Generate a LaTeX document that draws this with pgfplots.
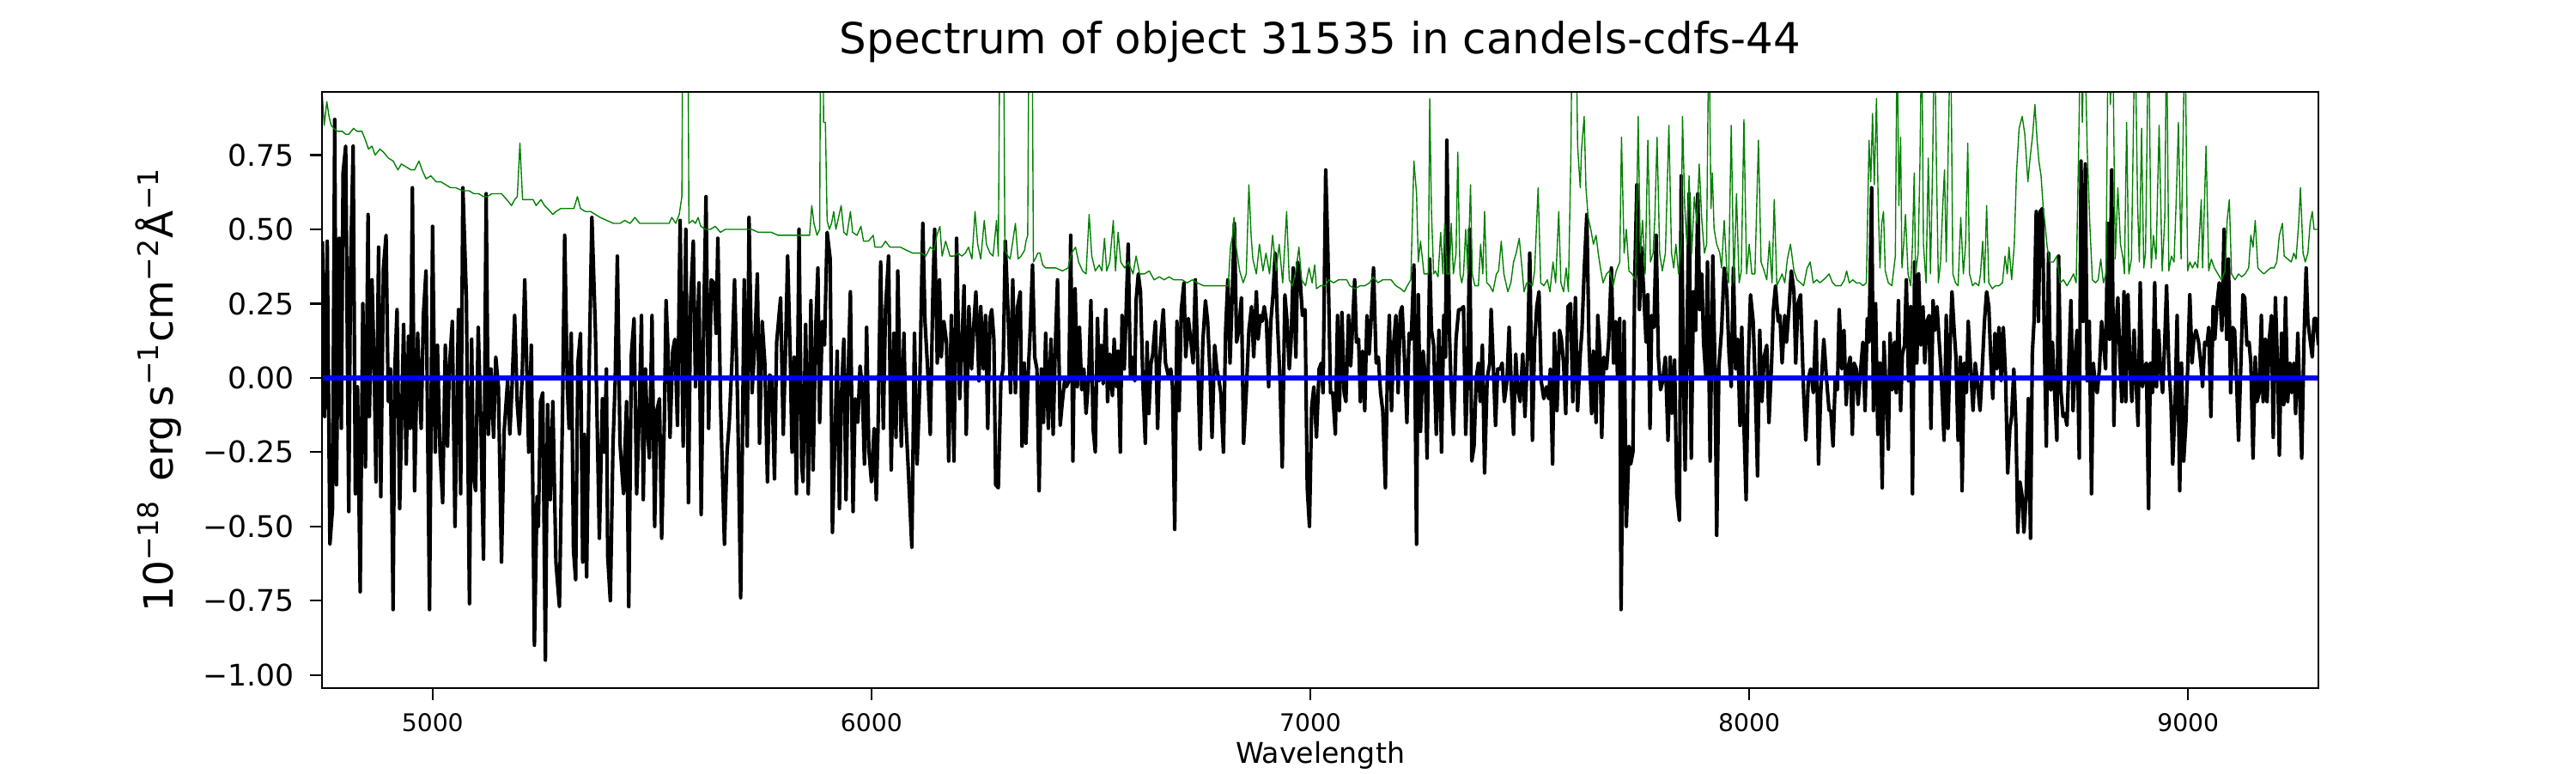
\documentclass[border=0pt]{standalone}
\usepackage{fontspec}
\setmainfont{DejaVu Sans}
\usepackage{pgfplots}
\pgfplotsset{compat=1.18}
\definecolor{mplgreen}{HTML}{008000}
\definecolor{mplblue}{HTML}{0000FF}
\begin{document}
\begin{tikzpicture}
\path[use as bounding box] (-135.5pt,-35.8pt) rectangle (948.5pt,289.4pt);
\begin{axis}[
  at={(0,0)}, anchor=south west, scale only axis,
  width=840.1pt, height=250.8pt,
  xmin=4748, xmax=9297, ymin=-1.044, ymax=0.963,
  axis on top,
  axis line style={line width=0.8pt},
  tick align=outside, major tick length=5.2pt,
  every tick/.style={line width=0.8pt, black},
  tick pos=left,
  xtick={5000,6000,7000,8000,9000},
  xticklabels={5000,6000,7000,8000,9000},
  ytick={-1,-0.75,-0.5,-0.25,0,0.25,0.5,0.75},
  yticklabels={−1.00,−0.75,−0.50,−0.25,0.00,0.25,0.50,0.75},
  xticklabel style={font=\fontsize{10.2}{12}\selectfont, inner sep=0pt, anchor=north, yshift=-5.4pt},
  yticklabel style={font=\fontsize{12.5}{15}\selectfont, inner sep=0pt, anchor=east, xshift=-6.2pt},
  title={Spectrum of object 31535 in candels-cdfs-44},
  title style={font=\fontsize{18}{21.6}\selectfont, inner sep=0pt, anchor=south, at={(axis description cs:0.5,1)}, yshift=6pt},
  xlabel={Wavelength},
  xlabel style={font=\fontsize{12}{14.4}\selectfont, inner sep=0pt, anchor=north, at={(axis description cs:0.5,0)}, yshift=-22.4pt},
  ylabel={10\textsuperscript{−18}\hspace{0.45em}erg\hspace{0.22em}s\textsuperscript{−1}cm\textsuperscript{−2}Å\textsuperscript{−1}},
  ylabel style={font=\fontsize{17}{20.4}\selectfont, inner sep=0pt, anchor=center, at={(axis description cs:-0.0818,0.5)}},
]
\addplot[black, line width=1.5pt, line join=round] coordinates {
(4749,0.46)(4754,-0.13)(4760,0.46)(4766,-0.56)(4772,-0.44)(4777,0.87)(4781,-0.36)(4787,0.47)(4792,-0.17)(4796,0.69)(4802,0.78)(4809,-0.45)(4813,0.36)(4819,0.78)(4824,-0.39)(4829,-0.03)(4835,-0.72)(4841,0.25)(4847,-0.30)(4853,0.55)(4856,-0.13)(4862,0.33)(4867,0.03)(4871,-0.35)(4877,0.44)(4882,-0.40)(4888,0.37)(4894,0.48)(4899,-0.08)(4904,0.03)(4910,-0.78)(4914,0.03)(4919,0.23)(4925,-0.44)(4934,0.18)(4940,-0.29)(4945,0.14)(4949,-0.17)(4954,0.64)(4959,-0.38)(4966,0.15)(4974,-0.17)(4979,0.21)(4985,0.36)(4993,-0.78)(5000,0.51)(5006,-0.25)(5011,0.11)(5017,-0.25)(5023,-0.42)(5029,0.11)(5034,-0.23)(5038,0.03)(5045,0.19)(5051,-0.50)(5059,0.23)(5064,-0.39)(5069,0.64)(5077,0.27)(5084,-0.76)(5089,0.13)(5093,-0.33)(5098,-0.38)(5104,0.17)(5110,-0.15)(5116,-0.61)(5122,0.62)(5127,-0.19)(5133,0.03)(5139,-0.20)(5144,0.07)(5150,-0.03)(5157,-0.62)(5163,-0.18)(5171,-0.01)(5176,-0.19)(5181,-0.03)(5187,0.21)(5193,-0.09)(5198,-0.19)(5204,0.00)(5210,0.33)(5219,-0.25)(5225,0.11)(5232,-0.90)(5238,-0.40)(5241,-0.50)(5246,-0.08)(5251,-0.05)(5257,-0.95)(5262,-0.09)(5268,-0.41)(5274,-0.08)(5281,-0.62)(5289,-0.77)(5296,-0.12)(5301,0.48)(5307,-0.03)(5311,-0.17)(5316,0.15)(5321,-0.58)(5326,-0.68)(5331,0.05)(5337,0.15)(5342,-0.62)(5346,-0.19)(5351,-0.67)(5357,0.05)(5363,0.54)(5371,0.16)(5380,-0.54)(5387,-0.07)(5392,-0.25)(5396,0.03)(5399,-0.60)(5405,-0.75)(5411,-0.23)(5416,-0.01)(5421,0.41)(5427,-0.22)(5435,-0.39)(5442,-0.08)(5447,-0.77)(5453,0.08)(5459,0.20)(5465,-0.39)(5471,-0.11)(5476,0.21)(5480,-0.41)(5485,0.03)(5489,-0.16)(5494,-0.27)(5500,0.21)(5506,-0.50)(5511,-0.11)(5517,-0.07)(5522,-0.54)(5528,-0.15)(5532,0.26)(5536,0.11)(5541,-0.20)(5547,0.09)(5552,0.13)(5558,-0.16)(5564,0.53)(5571,-0.23)(5577,0.50)(5583,-0.42)(5588,0.26)(5594,0.46)(5599,-0.03)(5607,0.32)(5612,-0.46)(5618,0.21)(5623,0.61)(5629,-0.17)(5635,0.33)(5641,0.32)(5646,0.15)(5650,0.47)(5656,-0.08)(5665,-0.56)(5671,-0.25)(5676,-0.15)(5682,0.05)(5688,0.33)(5695,-0.08)(5702,-0.74)(5710,0.33)(5717,-0.23)(5721,0.54)(5728,-0.05)(5734,0.11)(5740,0.35)(5745,-0.22)(5751,0.19)(5757,0.05)(5763,-0.35)(5768,0.01)(5773,0.00)(5779,-0.34)(5784,0.12)(5793,0.27)(5799,-0.19)(5804,0.08)(5809,0.41)(5815,0.07)(5819,-0.25)(5824,0.07)(5829,-0.39)(5835,0.50)(5841,-0.29)(5844,-0.35)(5850,0.18)(5856,-0.39)(5862,0.26)(5867,-0.31)(5873,0.17)(5878,0.37)(5882,-0.15)(5888,0.19)(5893,0.11)(5899,0.49)(5906,0.40)(5911,-0.52)
(5922,0.09)(5927,-0.44)(5931,-0.08)(5937,0.13)(5942,-0.41)(5946,-0.04)(5952,0.29)(5958,-0.45)(5963,-0.07)(5969,-0.15)(5974,0.04)(5979,-0.03)(5984,-0.29)(5989,0.17)(5994,-0.24)(6000,-0.35)(6006,-0.17)(6011,-0.41)(6015,-0.17)(6021,0.39)(6027,-0.17)(6032,0.23)(6039,0.41)(6045,-0.31)(6051,0.15)(6056,-0.20)(6060,0.36)(6068,-0.23)(6074,0.15)(6078,-0.13)(6084,-0.31)(6092,-0.57)(6098,0.15)(6104,-0.29)(6110,-0.03)(6117,0.52)(6122,0.19)(6128,0.03)(6134,-0.19)(6140,0.29)(6144,0.50)(6150,0.05)(6155,0.33)(6159,0.07)(6165,0.19)(6171,0.12)(6176,-0.28)(6182,0.21)(6188,-0.28)(6194,0.47)(6201,-0.07)(6206,0.11)(6211,0.31)(6216,-0.19)(6222,0.24)(6228,0.03)(6234,0.20)(6238,0.29)(6245,-0.01)(6249,0.24)(6255,0.03)(6260,0.21)(6265,-0.17)(6270,0.20)(6274,0.23)(6279,0.13)(6283,-0.36)(6289,-0.37)(6295,-0.01)(6300,0.03)(6305,0.46)(6311,0.23)(6317,-0.05)(6322,0.33)(6328,-0.05)(6333,0.24)(6339,0.29)(6343,-0.23)(6348,0.05)(6352,-0.22)(6357,0.01)(6362,0.17)(6367,0.38)(6372,0.07)(6377,0.03)(6382,-0.38)(6387,0.03)(6392,-0.15)(6397,0.15)(6403,-0.17)(6409,0.13)(6414,-0.19)(6419,0.11)(6424,0.33)(6430,-0.16)(6435,-0.08)(6440,-0.01)(6444,-0.03)(6450,-0.01)(6454,0.48)(6459,-0.28)(6464,0.30)(6469,-0.03)(6474,0.17)(6479,-0.04)(6484,0.03)(6489,-0.12)(6495,0.00)(6500,0.26)(6505,-0.17)(6510,-0.25)(6515,0.20)(6519,-0.01)(6524,0.11)(6528,-0.02)(6534,0.23)(6538,-0.08)(6543,0.08)(6549,-0.06)(6553,0.13)(6558,-0.03)(6562,0.09)(6567,-0.25)(6571,0.21)(6576,0.03)(6580,0.21)(6585,0.45)(6590,0.01)(6594,0.07)(6600,-0.01)(6603,0.26)(6608,0.35)(6613,0.29)(6619,-0.04)(6624,-0.22)(6628,0.12)(6632,-0.12)(6637,0.05)(6641,0.08)(6647,0.19)(6652,-0.17)(6656,0.04)(6661,0.16)(6665,0.23)(6670,0.05)(6676,0.01)(6682,0.03)(6686,-0.03)(6691,-0.51)(6696,0.19)(6701,-0.11)(6706,0.23)(6712,0.32)(6716,0.07)(6722,0.20)(6728,0.12)(6733,0.05)(6738,0.33)(6744,0.03)(6749,-0.24)(6755,0.12)(6761,0.26)(6766,0.19)(6771,0.03)(6776,-0.20)(6782,0.11)(6787,0.03)(6792,-0.01)(6796,-0.05)(6802,-0.25)(6807,0.16)(6812,0.33)(6817,0.05)(6822,0.28)(6827,0.52)(6832,0.12)(6837,0.16)(6843,0.27)(6848,-0.22)(6854,-0.05)(6860,0.16)(6866,0.24)(6871,0.07)(6877,0.29)(6881,0.13)(6886,0.21)(6890,0.19)(6895,0.24)(6900,0.19)(6905,-0.03)(6910,0.19)(6915,0.28)(6920,0.42)(6925,0.19)(6931,-0.01)(6936,-0.30)(6942,0.28)(6947,0.19)(6952,0.03)(6956,0.12)(6961,0.37)(6967,0.07)(6971,0.39)(6976,0.35)(6982,0.21)(6988,0.23)(6993,-0.37)(6998,-0.50)(7003,-0.10)(7008,-0.03)(7014,-0.20)(7020,0.03)(7025,0.05)(7029,-0.05)(7035,0.70)(7040,0.42)(7046,-0.05)
(7051,-0.05)(7057,-0.19)(7062,0.21)(7066,-0.11)(7072,0.22)(7077,-0.05)(7081,-0.08)(7087,0.21)(7092,0.04)(7096,0.17)(7101,0.33)(7105,0.12)(7110,0.13)(7114,-0.08)(7119,0.09)(7124,-0.11)(7129,0.21)(7134,0.08)(7139,0.21)(7144,0.37)(7150,0.05)(7155,0.07)(7160,-0.05)(7165,-0.11)(7171,-0.37)(7176,0.05)(7180,0.21)(7185,-0.11)(7189,0.10)(7195,0.21)(7200,-0.05)(7205,0.22)(7209,0.24)(7215,0.05)(7220,-0.15)(7225,0.15)(7230,0.13)(7236,0.38)(7242,-0.56)(7246,0.28)(7251,-0.18)(7257,0.09)(7262,0.00)(7266,-0.27)(7272,0.40)(7276,0.16)(7281,0.11)(7287,-0.19)(7293,0.16)(7299,-0.25)(7304,0.21)(7308,0.07)(7311,0.80)(7317,0.15)(7321,-0.04)(7326,-0.19)(7332,0.13)(7338,0.23)(7343,0.23)(7349,0.24)(7354,-0.19)(7359,0.03)(7363,0.50)(7368,-0.28)(7373,-0.23)(7378,0.00)(7383,0.05)(7387,-0.08)(7392,0.11)(7397,-0.32)(7403,0.00)(7409,0.05)(7412,0.23)(7417,0.04)(7422,-0.16)(7427,0.03)(7433,0.03)(7437,0.05)(7442,-0.08)(7448,-0.01)(7453,0.17)(7458,-0.03)(7463,-0.19)(7468,0.08)(7472,-0.03)(7478,-0.08)(7484,0.08)(7489,-0.13)(7495,0.08)(7500,0.42)(7506,-0.21)(7511,0.12)(7516,0.24)(7521,0.29)(7526,-0.01)(7532,-0.07)(7538,-0.03)(7543,-0.07)(7547,0.03)(7552,-0.29)(7556,0.15)(7562,-0.11)(7568,0.16)(7572,0.13)(7577,0.05)(7582,-0.12)(7587,0.24)(7593,0.25)(7598,-0.08)(7604,0.27)(7609,-0.11)(7615,0.08)(7619,0.16)(7624,0.36)(7630,0.55)(7635,0.11)(7641,-0.12)(7645,0.09)(7651,-0.15)(7655,0.21)(7660,0.08)(7664,-0.20)(7669,0.07)(7675,0.03)(7680,0.13)(7686,0.37)(7691,0.05)(7696,0.19)(7700,0.00)(7705,0.20)(7708,-0.78)(7715,0.19)(7720,-0.50)(7726,-0.23)(7730,-0.29)(7735,-0.25)(7739,0.32)(7744,0.65)(7750,0.23)(7754,0.44)(7759,0.31)(7765,0.12)(7769,0.28)(7774,-0.17)(7778,0.21)(7783,0.17)(7788,0.48)(7793,0.07)(7798,-0.04)(7803,-0.01)(7809,0.07)(7815,-0.21)(7820,0.07)(7824,-0.12)(7830,0.06)(7835,-0.39)(7841,-0.48)(7845,0.68)(7850,0.04)(7854,-0.31)(7859,0.21)(7863,0.62)(7868,-0.27)(7873,0.29)(7878,0.16)(7883,0.62)(7887,0.23)(7892,0.35)(7896,0.12)(7901,0.01)(7905,0.39)(7911,-0.28)(7917,0.41)(7922,0.03)(7926,-0.53)(7931,0.04)(7937,0.16)(7943,0.37)(7949,0.29)(7954,0.08)(7959,-0.03)(7964,0.37)(7969,0.03)(7974,0.13)(7979,-0.16)(7983,0.17)(7988,-0.16)(7993,-0.41)(7998,0.05)(8003,0.28)(8009,0.19)(8014,-0.03)(8019,-0.33)(8024,0.16)(8029,-0.08)(8034,0.07)(8040,0.11)(8045,-0.15)(8051,0.05)(8055,0.23)(8060,0.31)(8066,0.19)(8070,0.21)(8075,0.05)(8081,0.21)(8085,0.12)(8090,0.22)(8096,0.36)(8102,0.29)(8106,0.05)(8111,0.25)(8117,0.28)(8124,-0.05)(8129,-0.21)(8135,0.00)(8140,0.03)(8146,-0.05)(8152,0.19)(8158,-0.29)(8163,-0.05)(8170,0.13)(8176,0.00)(8182,-0.11)
(8186,-0.11)(8191,-0.23)(8196,-0.01)(8201,-0.04)(8205,0.23)(8211,0.03)(8216,0.16)(8221,-0.09)(8225,0.03)(8230,0.07)(8235,-0.19)(8239,0.05)(8244,0.03)(8248,-0.09)(8253,0.01)(8259,0.12)(8264,-0.11)(8269,0.20)(8273,0.12)(8279,0.64)(8283,-0.11)(8288,0.25)(8293,-0.19)(8298,0.05)(8303,-0.37)(8307,0.12)(8312,-0.05)(8317,-0.24)(8321,0.15)(8326,-0.04)(8331,0.12)(8335,-0.05)(8340,0.26)(8345,-0.11)(8349,0.08)(8354,0.11)(8358,0.33)(8363,-0.01)(8368,0.24)(8372,-0.39)(8377,0.39)(8382,0.05)(8386,0.35)(8391,0.11)(8396,0.24)(8400,0.05)(8405,0.19)(8410,0.21)(8414,-0.17)(8419,0.26)(8423,0.16)(8428,0.24)(8433,0.12)(8437,0.03)(8444,-0.21)(8449,0.21)(8453,-0.17)(8458,0.12)(8462,0.29)(8467,0.16)(8471,0.07)(8476,-0.21)(8481,0.07)(8485,-0.38)(8490,0.05)(8495,-0.05)(8499,0.19)(8504,0.05)(8510,-0.11)(8515,0.05)(8521,-0.03)(8526,-0.11)(8530,0.00)(8536,0.19)(8541,0.29)(8546,0.24)(8550,0.08)(8555,-0.07)(8560,0.15)(8564,0.03)(8569,0.17)(8574,-0.01)(8579,0.17)(8584,0.01)(8589,-0.32)(8594,-0.17)(8598,-0.13)(8603,0.03)(8608,-0.17)(8612,-0.52)(8617,-0.35)(8622,-0.40)(8626,-0.52)(8631,-0.40)(8636,-0.07)(8641,-0.54)(8645,0.08)(8649,0.19)(8654,0.56)(8659,0.19)(8663,0.56)(8668,0.57)(8673,0.08)(8677,-0.23)(8682,0.42)(8687,-0.04)(8691,0.12)(8696,-0.05)(8701,-0.21)(8705,0.41)(8710,-0.04)(8715,-0.13)(8719,-0.12)(8724,-0.16)(8728,0.03)(8733,0.26)(8738,-0.11)(8742,0.05)(8747,0.16)(8752,-0.27)(8756,0.73)(8761,0.19)(8766,0.72)(8770,-0.01)(8775,0.19)(8780,-0.39)(8784,0.05)(8789,-0.03)(8793,-0.05)(8798,0.03)(8803,0.19)(8807,0.13)(8812,0.03)(8817,0.52)(8821,0.13)(8826,0.70)(8831,-0.16)(8835,0.15)(8840,0.27)(8845,0.05)(8849,-0.08)(8854,0.29)(8858,-0.08)(8863,0.28)(8868,0.03)(8872,-0.08)(8877,0.16)(8882,-0.03)(8886,-0.16)(8891,0.32)(8896,-0.03)(8900,0.03)(8905,0.05)(8910,-0.44)(8914,0.05)(8919,-0.05)(8924,0.32)(8928,-0.03)(8933,0.16)(8937,0.03)(8942,-0.05)(8947,0.13)(8951,0.31)(8956,0.05)(8961,-0.08)(8965,-0.29)(8970,-0.11)(8975,0.21)(8981,-0.38)(8985,0.05)(8990,-0.28)(8995,-0.15)(8999,0.03)(9004,0.28)(9009,0.05)(9013,0.13)(9018,0.16)(9024,0.12)(9029,0.05)(9033,-0.03)(9038,0.12)(9043,0.11)(9047,0.17)(9052,-0.13)(9057,0.24)(9061,0.13)(9066,0.25)(9071,0.32)(9077,0.16)(9082,0.50)(9088,0.13)(9092,0.40)(9097,-0.05)(9102,0.17)(9106,0.16)(9111,-0.03)(9115,-0.21)(9120,0.03)(9125,0.28)(9129,0.27)(9134,0.11)(9139,0.12)(9143,0.05)(9148,-0.27)(9153,0.07)(9157,-0.08)(9162,-0.05)(9167,0.21)(9171,-0.08)(9176,0.13)(9180,-0.08)(9185,0.13)(9190,0.21)(9194,-0.20)(9199,0.27)(9204,0.03)(9208,-0.26)(9213,0.15)(9218,-0.09)(9222,0.27)(9227,-0.08)(9232,0.05)(9236,-0.05)(9241,0.05)(9245,-0.12)(9250,0.15)(9255,-0.08)(9259,-0.27)(9264,0.12)(9269,0.37)(9273,0.19)(9278,0.13)(9283,0.07)(9287,0.20)(9292,0.20)(9297,0.11)
};
\addplot[mplgreen, line width=0.5pt, line join=round] coordinates {
(4748,0.97)(4753,0.85)(4759,0.93)(4764,0.88)(4769,0.85)(4775,0.84)(4783,0.83)(4794,0.83)(4802,0.82)(4809,0.82)(4820,0.84)(4828,0.83)(4839,0.83)(4847,0.80)(4854,0.77)(4862,0.78)(4869,0.75)(4880,0.77)(4888,0.76)(4899,0.74)(4910,0.73)(4921,0.70)(4929,0.72)(4940,0.71)(4951,0.70)(4959,0.70)(4969,0.73)(4976,0.70)(4985,0.67)(4996,0.68)(5008,0.66)(5019,0.66)(5030,0.65)(5041,0.64)(5053,0.64)(5068,0.63)(5083,0.63)(5094,0.62)(5105,0.62)(5116,0.61)(5124,0.61)(5135,0.62)(5146,0.62)(5157,0.62)(5169,0.60)(5180,0.58)(5187,0.60)(5193,0.61)(5199,0.79)(5205,0.60)(5217,0.60)(5229,0.60)(5236,0.58)(5247,0.60)(5255,0.58)(5262,0.57)(5274,0.55)(5281,0.56)(5292,0.57)(5307,0.57)(5322,0.57)(5330,0.61)(5337,0.57)(5348,0.56)(5360,0.56)(5371,0.55)(5382,0.54)(5397,0.53)(5412,0.52)(5427,0.52)(5438,0.53)(5450,0.52)(5461,0.54)(5472,0.52)(5487,0.52)(5502,0.52)(5517,0.52)(5528,0.52)(5539,0.52)(5545,0.54)(5554,0.52)(5562,0.55)(5568,0.61)(5571,1.5)(5581,1.5)(5584,0.52)(5592,0.53)(5599,0.52)(5605,0.54)(5611,0.51)(5622,0.50)(5633,0.50)(5644,0.51)(5656,0.49)(5667,0.50)(5682,0.50)(5697,0.50)(5712,0.50)(5727,0.50)(5742,0.49)(5757,0.49)(5772,0.49)(5787,0.48)(5802,0.48)(5817,0.48)(5832,0.48)(5847,0.48)(5859,0.48)(5864,0.58)(5869,0.52)(5876,0.48)(5882,0.50)(5885,1.5)(5888,1.5)(5891,0.86)(5895,0.86)(5899,0.53)
(5904,0.50)(5909,0.52)(5914,0.56)(5919,0.50)(5925,0.54)(5931,0.58)(5937,0.49)(5944,0.48)(5952,0.56)(5957,0.49)(5967,0.48)(5976,0.51)(5982,0.46)(5993,0.46)(6004,0.48)(6008,0.44)(6023,0.44)(6032,0.46)(6042,0.44)(6053,0.44)(6066,0.44)(6079,0.43)(6094,0.42)(6113,0.42)(6124,0.41)(6134,0.44)(6143,0.43)(6149,0.48)(6156,0.51)(6161,0.41)(6169,0.46)(6179,0.41)(6188,0.41)(6197,0.42)(6206,0.41)(6214,0.42)(6221,0.44)(6229,0.40)(6236,0.56)(6242,0.45)(6249,0.40)(6257,0.53)(6262,0.45)(6270,0.42)(6277,0.41)(6285,0.53)(6289,0.41)(6294,1.5)(6300,1.5)(6304,0.43)(6311,0.41)(6316,0.40)(6322,0.46)(6328,0.52)(6334,0.40)(6341,0.41)(6349,0.43)(6352,0.46)(6356,0.48)(6360,1.5)(6365,1.5)(6369,0.39)(6373,0.40)(6379,0.42)(6384,0.42)(6390,0.38)(6397,0.37)(6409,0.37)(6420,0.37)(6435,0.36)(6448,0.37)(6456,0.42)(6465,0.44)(6472,0.39)(6481,0.36)(6489,0.35)(6496,0.55)(6502,0.41)(6510,0.36)(6519,0.38)(6525,0.36)(6531,0.47)(6536,0.36)(6543,0.39)(6551,0.53)(6556,0.36)(6562,0.49)(6568,0.39)(6577,0.37)(6585,0.39)(6596,0.35)(6603,0.41)(6611,0.35)(6622,0.35)(6633,0.36)(6644,0.33)(6656,0.34)(6667,0.33)(6678,0.34)(6689,0.33)(6697,0.33)(6708,0.33)(6719,0.32)(6731,0.33)(6742,0.32)(6757,0.31)(6772,0.31)(6787,0.31)(6802,0.31)(6813,0.31)(6818,0.44)(6823,0.48)(6826,0.54)(6830,0.45)(6839,0.36)(6847,0.32)(6854,0.35)(6860,0.65)(6865,0.48)(6869,0.40)(6877,0.35)(6884,0.45)(6892,0.36)(6899,0.42)(6907,0.35)(6914,0.48)(6922,0.36)(6929,0.45)(6937,0.32)(6946,0.56)(6952,0.33)(6959,0.31)(6967,0.36)(6974,0.44)(6980,0.33)(6989,0.31)(6997,0.37)(7004,0.32)(7010,0.38)
(7014,0.30)(7023,0.31)(7034,0.31)(7042,0.33)(7053,0.32)(7064,0.33)(7075,0.33)(7083,0.33)(7090,0.31)(7102,0.30)(7113,0.31)(7124,0.31)(7135,0.32)(7143,0.34)(7154,0.32)(7165,0.33)(7174,0.33)(7184,0.33)(7195,0.31)(7206,0.30)(7214,0.29)(7221,0.31)(7229,0.33)(7236,0.73)(7242,0.62)(7246,0.39)(7251,0.46)(7259,0.35)(7269,0.35)(7272,0.94)(7276,0.56)(7281,0.35)(7285,0.36)(7291,0.34)(7297,0.49)(7302,0.35)(7306,0.52)(7311,0.35)(7317,0.35)(7321,0.52)(7326,0.35)(7332,0.42)(7336,0.76)(7341,0.35)(7345,0.32)(7349,0.35)(7354,0.50)(7359,0.35)(7365,0.65)(7369,0.35)(7375,0.31)(7383,0.31)(7388,0.45)(7393,0.35)(7397,0.56)(7402,0.32)(7409,0.31)(7416,0.29)(7424,0.35)(7429,0.36)(7435,0.46)(7441,0.35)(7450,0.29)(7457,0.32)(7463,0.39)(7469,0.42)(7476,0.47)(7481,0.39)(7487,0.29)(7493,0.32)(7499,0.32)(7506,0.31)(7511,0.36)(7519,0.64)(7525,0.32)(7532,0.31)(7540,0.33)(7546,0.29)(7553,0.39)(7559,0.32)(7566,0.56)(7571,0.32)(7577,0.29)(7583,0.37)(7588,0.29)(7594,0.78)(7598,1.5)(7603,1.5)(7609,0.78)(7615,0.64)(7618,0.77)(7624,0.88)(7628,0.64)(7633,0.54)(7639,0.50)(7645,0.45)(7651,0.48)(7656,0.42)(7661,0.37)(7667,0.32)(7675,0.35)(7682,0.36)(7690,0.31)(7697,0.36)(7705,0.39)(7709,0.81)(7715,0.42)(7720,0.50)(7726,0.36)(7733,0.35)(7741,0.33)(7747,0.88)(7752,0.42)(7757,0.53)(7763,0.35)(7769,0.80)(7775,0.39)(7781,0.42)(7785,0.54)(7790,0.81)(7796,0.42)(7802,0.36)(7809,0.42)(7817,0.85)(7823,0.42)(7828,0.37)(7833,0.45)(7839,0.35)(7845,0.45)(7848,0.88)(7853,0.58)(7858,0.45)(7863,0.68)(7869,0.42)(7875,0.61)(7881,0.52)(7886,0.72)(7892,0.53)(7898,0.42)(7903,0.45)(7908,1.2)(7913,0.57)(7916,0.69)(7920,0.50)(7926,0.45)(7933,0.42)(7937,0.37)(7943,0.53)(7949,0.36)(7953,0.32)(7959,0.85)(7965,0.32)(7971,0.62)(7977,0.32)(7982,0.36)(7988,0.87)(7994,0.35)(8000,0.45)(8006,0.35)(8013,0.35)(8021,0.80)(8027,0.39)(8034,0.36)(8040,0.33)(8046,0.46)(8052,0.32)(8057,0.60)(8063,0.31)(8069,0.33)(8075,0.35)(8081,0.32)(8087,0.40)(8094,0.45)(8102,0.36)(8109,0.33)(8117,0.32)(8124,0.31)(8132,0.37)(8139,0.39)(8146,0.32)(8154,0.33)(8161,0.32)(8169,0.33)(8176,0.34)
(8182,0.35)(8190,0.32)(8197,0.31)(8209,0.31)(8217,0.33)(8222,0.36)(8228,0.32)(8236,0.33)(8244,0.32)(8252,0.32)(8259,0.31)(8267,0.32)(8273,0.80)(8277,0.66)(8281,0.89)(8285,0.65)(8290,0.94)(8294,0.58)(8298,0.37)(8302,0.52)(8306,0.56)(8310,0.36)(8317,0.32)(8325,0.31)(8333,0.41)(8337,1.2)(8341,0.58)(8345,0.81)(8348,0.37)(8352,0.45)(8356,0.55)(8362,0.35)(8368,0.31)(8372,0.45)(8376,0.69)(8379,0.35)(8385,0.42)(8389,0.72)(8393,1.2)(8397,0.45)(8403,0.32)(8408,0.74)(8413,0.35)(8418,0.72)(8422,1.2)(8427,0.68)(8431,0.32)(8436,0.39)(8441,0.58)(8445,0.70)(8449,0.39)(8454,0.82)(8459,1.2)(8464,0.35)(8470,0.32)(8476,0.31)(8482,0.54)(8488,0.35)(8493,0.45)(8498,0.79)(8502,0.35)(8509,0.31)(8515,0.32)(8523,0.31)(8527,0.35)(8532,0.46)(8536,0.32)(8541,0.58)(8546,0.32)(8554,0.30)(8561,0.31)(8569,0.31)(8577,0.32)(8583,0.41)(8588,0.35)(8592,0.44)(8598,0.33)(8604,0.45)(8609,0.69)(8615,0.84)(8622,0.88)(8628,0.82)(8635,0.66)(8640,0.74)(8646,0.82)(8651,0.92)(8656,0.80)(8660,0.73)(8665,0.68)(8670,0.57)(8674,0.52)(8679,0.44)(8685,0.39)(8693,0.39)(8701,0.41)(8708,0.32)(8716,0.33)(8724,0.31)(8732,0.33)(8739,0.35)(8745,0.32)(8751,0.80)(8755,1.2)(8759,0.86)(8764,1.2)(8770,0.78)(8776,0.52)(8782,0.33)(8789,0.32)(8795,0.33)(8801,0.40)(8807,0.32)(8813,0.35)(8818,1.2)(8823,0.92)(8828,1.2)(8834,0.40)(8840,0.64)(8846,0.45)(8852,0.40)(8855,0.35)(8860,0.86)(8865,0.35)(8871,0.40)(8879,1.2)(8885,0.58)(8889,0.39)(8894,0.84)(8899,0.37)(8903,0.42)(8910,1.2)(8916,0.37)(8921,0.48)(8927,0.40)(8934,0.85)(8941,0.36)(8947,0.54)(8951,1.2)(8956,0.36)(8962,0.41)(8968,0.39)(8973,0.60)(8978,0.86)(8984,0.40)(8993,1.2)(8999,0.36)(9004,0.39)(9010,0.37)(9016,0.39)(9022,0.37)(9030,0.60)(9033,0.37)(9041,0.78)(9047,0.36)(9053,0.40)(9060,0.37)(9068,0.35)(9076,0.33)(9084,0.36)(9089,0.53)(9094,0.60)(9099,0.35)(9107,0.33)(9115,0.35)(9122,0.34)(9130,0.35)(9138,0.37)(9143,0.48)(9148,0.44)(9153,0.53)(9159,0.37)(9165,0.36)(9173,0.35)(9180,0.36)(9188,0.37)(9196,0.37)(9202,0.39)(9208,0.48)(9215,0.52)(9219,0.41)(9227,0.40)(9235,0.39)(9241,0.42)(9246,0.40)(9252,0.52)(9256,0.64)(9262,0.42)(9267,0.39)(9273,0.42)(9278,0.52)(9283,0.56)(9287,0.50)(9293,0.50)(9297,0.50)
};
\addplot[mplblue, line width=2pt] coordinates {(4748,0) (9297,0)};
\end{axis}
\end{tikzpicture}
\end{document}
